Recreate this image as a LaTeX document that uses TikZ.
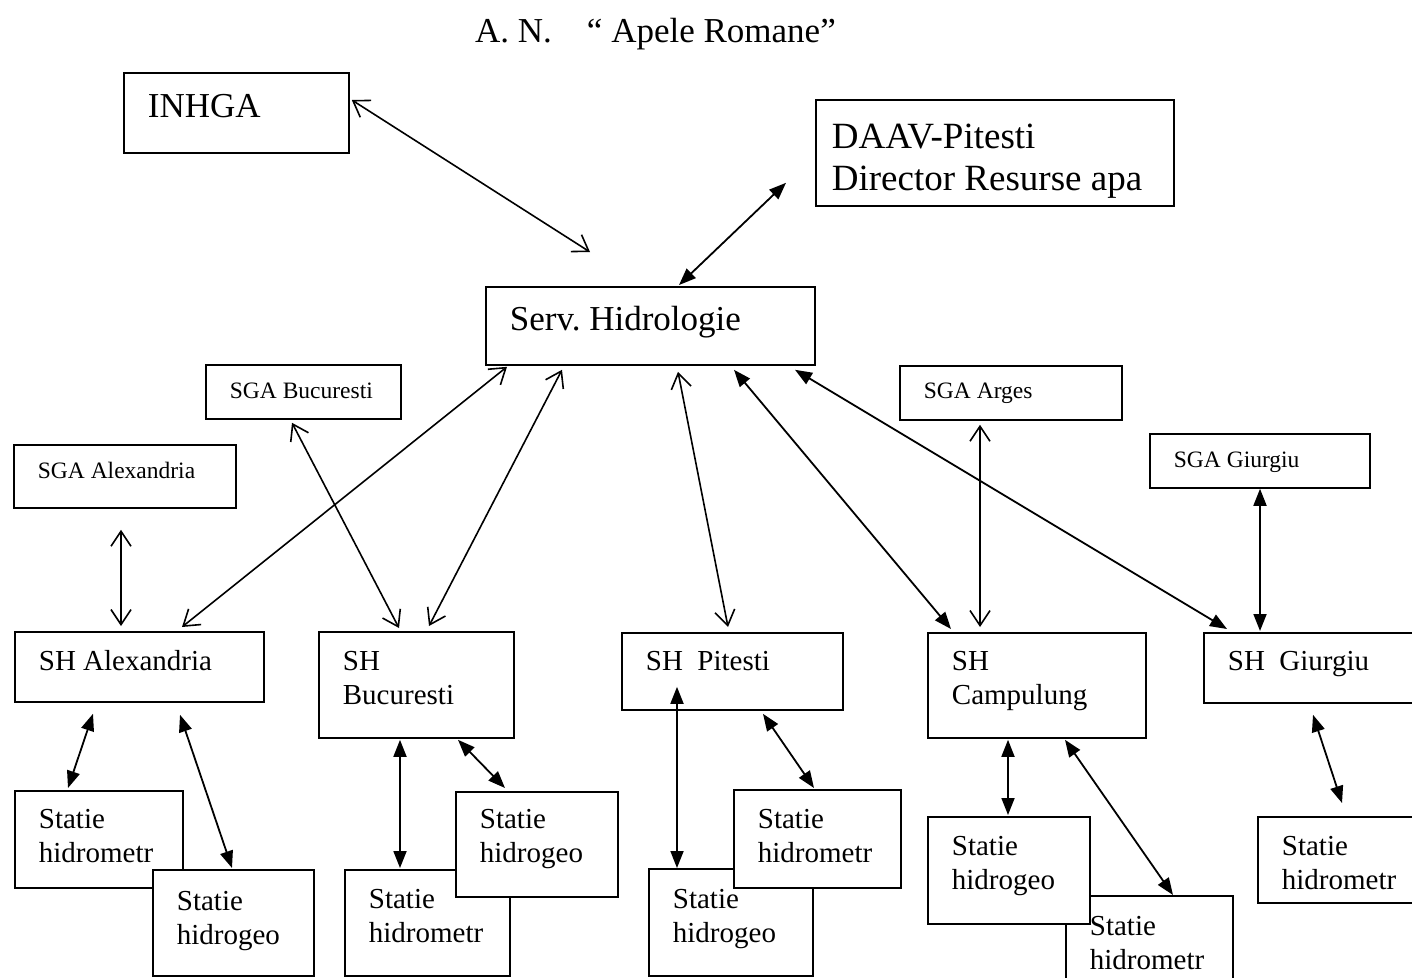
\documentclass[tikz,border=0pt]{standalone}
\usepackage{fontspec}
\setmainfont{Liberation Serif}
\usetikzlibrary{arrows.meta}
\frenchspacing

\begin{document}
\begin{tikzpicture}[x=1pt, y=-1pt,
  box/.style={draw, line width=1.8pt, fill=white, anchor=north west, inner xsep=24pt, inner ysep=0pt, align=flush left},
  bigtext/.style={font=\fontsize{35}{42}\selectfont},
  midtext/.style={font=\fontsize{29}{34}\selectfont},
  smalltext/.style={font=\fontsize{23.5}{28}\selectfont},
  link/.style={line width=1.6pt, >={Straight Barb[length=15pt,width=20pt]}, <->},
  boldlink/.style={line width=1.8pt, >={Triangle[length=17pt,width=13pt]}, <->}]

\path[use as bounding box, fill=white] (0,0) rectangle (1412,977);

% title
\node[anchor=base west, inner sep=0pt, bigtext] (title) at (475,42) {A. N.\hspace{35pt}“ Apele Romane”};

% top level
\node[box, bigtext, text width=177pt, text height=45pt, text depth=35pt] (inhga) at (123,72) {INHGA};
\node[box, font=\fontsize{37}{42}\selectfont, inner xsep=16pt, text width=326pt, text height=49pt, text depth=57pt] (daav) at (815,99) {DAAV-Pitesti\\Director Resurse apa};
\node[box, bigtext, text width=281pt, text height=44pt, text depth=34pt] (serv) at (485,286) {Serv. Hidrologie};

% SGA boxes
\node[box, smalltext, text width=147pt, text height=34pt, text depth=20pt] (sgabuc) at (205,364) {SGA Bucuresti};
\node[box, smalltext, text width=174pt, text height=34pt, text depth=29pt] (sgaalex) at (13,444) {SGA Alexandria};
\node[box, smalltext, text width=174pt, text height=33pt, text depth=21pt] (sgaarg) at (899,365) {SGA Arges};
\node[box, smalltext, text width=172pt, text height=34pt, text depth=20pt] (sgagiu) at (1149,433) {SGA Giurgiu};

% SH boxes
\node[box, midtext, text width=201pt, text height=39pt, text depth=31pt] (shalex) at (14,631) {SH Alexandria};
\node[box, midtext, text width=147pt, text height=39pt, text depth=67pt] (shbuc) at (318,631) {SH\\Bucuresti};
\node[box, midtext, text width=173pt, text height=38pt, text depth=39pt] (shpit) at (621,632) {SH~~Pitesti};
\node[box, midtext, text width=170pt, text height=38pt, text depth=67pt] (shcamp) at (927,632) {SH\\Campulung};
\node[box, midtext, text width=179pt, text height=38pt, text depth=32pt] (shgiu) at (1203,632) {SH~~Giurgiu};

% stations
\node[box, midtext, text width=120pt, text height=38pt, text depth=59pt] (alexmetr) at (14,790) {Statie\\hidrometr};
\node[box, midtext, text width=113pt, text height=41pt, text depth=65pt] (alexgeo) at (152,869) {Statie\\hidrogeo};
\node[box, midtext, text width=117pt, text height=39pt, text depth=67pt] (bucmetr) at (344,869) {Statie\\hidrometr};
\node[box, midtext, text width=114pt, text height=37pt, text depth=68pt] (bucgeo) at (455,791) {Statie\\hidrogeo};
\node[box, midtext, text width=116pt, text height=40pt, text depth=67pt] (pitgeo) at (648,868) {Statie\\hidrogeo};
\node[box, midtext, text width=119pt, text height=39pt, text depth=59pt] (pitmetr) at (733,789) {Statie\\hidrometr};
\node[box, midtext, text width=119pt, text height=40pt, text depth=60pt] (campmetr) at (1065,895) {Statie\\hidrometr};
\node[box, midtext, text width=114pt, text height=39pt, text depth=68pt] (campgeo) at (927,816) {Statie\\hidrogeo};
\node[box, midtext, text width=125pt, text height=39pt, text depth=47pt] (giumetr) at (1257,816) {Statie\\hidrometr};

% upper links
\draw[link] ([shift={(2,28)}]inhga.north east) -- ([shift={(105,-34)}]serv.north west);
\draw[boldlink] ([shift={(-29,-24)}]daav.south west) -- ([shift={(194,-1)}]serv.north west);
\draw[link] ([shift={(22,1)}]serv.south west) -- ([shift={(168,-4)}]shalex.north west);
\draw[link] ([shift={(87,3)}]sgabuc.south west) -- ([shift={(81,-3)}]shbuc.north west);
\draw[link] ([shift={(77,4)}]serv.south west) -- ([shift={(111,-5)}]shbuc.north west);
\draw[link] ([shift={(193,6)}]serv.south west) -- ([shift={(107,-5)}]shpit.north west);
\draw[link] ([shift={(108,21)}]sgaalex.south west) -- ([shift={(107,-5)}]shalex.north west);
\draw[boldlink] ([shift={(249,4)}]serv.south west) -- ([shift={(24,-3)}]shcamp.north west);
\draw[boldlink] ([shift={(310,4)}]serv.south west) -- ([shift={(24,-3)}]shgiu.north west);
\draw[link] ([shift={(81,4)}]sgaarg.south west) -- ([shift={(53,-5)}]shcamp.north west);
\draw[boldlink] ([shift={(111,0)}]sgagiu.south west) -- ([shift={(57,-1)}]shgiu.north west);

% lower links
\draw[boldlink] ([shift={(79,11)}]shalex.south west) -- ([shift={(54,-2)}]alexmetr.north west);
\draw[boldlink] ([shift={(166,12)}]shalex.south west) -- ([shift={(80,-1)}]alexgeo.north west);
\draw[boldlink] ([shift={(82,1)}]shbuc.south west) -- ([shift={(56,-1)}]bucmetr.north west);
\draw[boldlink] ([shift={(140,1)}]shbuc.south west) -- ([shift={(50,-3)}]bucgeo.north west);
\draw[boldlink] ([shift={(56,-24)}]shpit.south west) -- ([shift={(29,0)}]pitgeo.north west);
\draw[boldlink] ([shift={(142,3)}]shpit.south west) -- ([shift={(81,-1)}]pitmetr.north west);
\draw[boldlink] ([shift={(81,1)}]shcamp.south west) -- ([shift={(81,-1)}]campgeo.north west);
\draw[boldlink] ([shift={(138,1)}]shcamp.south west) -- ([shift={(108,0)}]campmetr.north west);
\draw[boldlink] ([shift={(110,11)}]shgiu.south west) -- ([shift={(85,-13)}]giumetr.north west);
\end{tikzpicture}
\end{document}
